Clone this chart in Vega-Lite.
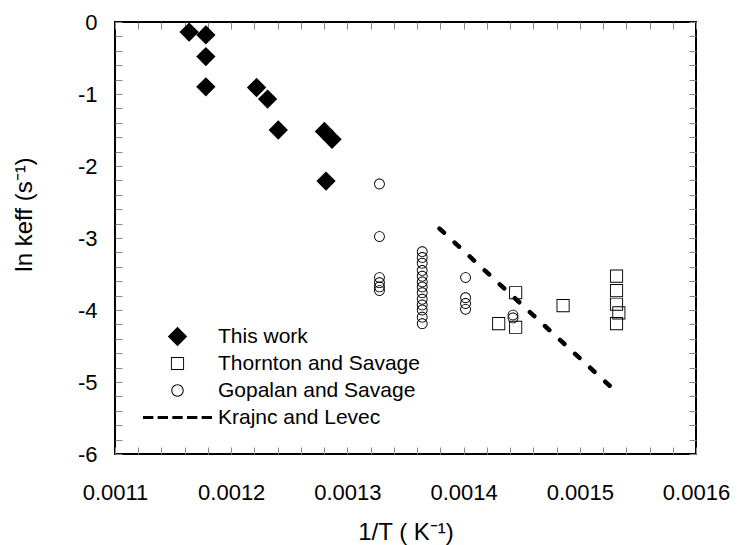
{
  "$schema": "https://vega.github.io/schema/vega-lite/v6.json",
  "width": 581,
  "height": 432,
  "autosize": "none",
  "padding": {"left": 115, "top": 22, "right": 42, "bottom": 91},
  "background": "white",
  "config": {
    "view": {"stroke": "black", "strokeWidth": 2},
    "font": "Liberation Sans",
    "axis": {
      "grid": false,
      "domain": false,
      "labelColor": "black",
      "labelFont": "Liberation Sans",
      "labelFontSize": 22,
      "titleFont": "Liberation Sans",
      "titleFontSize": 24,
      "titleFontWeight": "normal",
      "titleColor": "black"
    }
  },
  "data": {
    "values": [
      {"series": "This work", "x": 0.0011638, "y": -0.14},
      {"series": "This work", "x": 0.0011782, "y": -0.18},
      {"series": "This work", "x": 0.0011782, "y": -0.48},
      {"series": "This work", "x": 0.0011782, "y": -0.90},
      {"series": "This work", "x": 0.0012218, "y": -0.91},
      {"series": "This work", "x": 0.0012313, "y": -1.07},
      {"series": "This work", "x": 0.0012405, "y": -1.50},
      {"series": "This work", "x": 0.0012802, "y": -1.52},
      {"series": "This work", "x": 0.0012868, "y": -1.63},
      {"series": "This work", "x": 0.0012816, "y": -2.21},
      {"series": "Thornton and Savage", "x": 0.0014448, "y": -3.76},
      {"series": "Thornton and Savage", "x": 0.0014302, "y": -4.19},
      {"series": "Thornton and Savage", "x": 0.0014448, "y": -4.24},
      {"series": "Thornton and Savage", "x": 0.0014856, "y": -3.94},
      {"series": "Thornton and Savage", "x": 0.0015316, "y": -3.53},
      {"series": "Thornton and Savage", "x": 0.0015316, "y": -3.73},
      {"series": "Thornton and Savage", "x": 0.0015316, "y": -3.92},
      {"series": "Thornton and Savage", "x": 0.0015336, "y": -4.04},
      {"series": "Thornton and Savage", "x": 0.0015316, "y": -4.19},
      {"series": "Gopalan and Savage", "x": 0.0013276, "y": -2.25},
      {"series": "Gopalan and Savage", "x": 0.0013276, "y": -2.98},
      {"series": "Gopalan and Savage", "x": 0.0013276, "y": -3.55},
      {"series": "Gopalan and Savage", "x": 0.0013276, "y": -3.62},
      {"series": "Gopalan and Savage", "x": 0.0013276, "y": -3.68},
      {"series": "Gopalan and Savage", "x": 0.0013276, "y": -3.73},
      {"series": "Gopalan and Savage", "x": 0.0013644, "y": -3.19},
      {"series": "Gopalan and Savage", "x": 0.0013644, "y": -3.27},
      {"series": "Gopalan and Savage", "x": 0.0013644, "y": -3.35},
      {"series": "Gopalan and Savage", "x": 0.0013644, "y": -3.45},
      {"series": "Gopalan and Savage", "x": 0.0013644, "y": -3.53},
      {"series": "Gopalan and Savage", "x": 0.0013644, "y": -3.61},
      {"series": "Gopalan and Savage", "x": 0.0013644, "y": -3.68},
      {"series": "Gopalan and Savage", "x": 0.0013644, "y": -3.76},
      {"series": "Gopalan and Savage", "x": 0.0013644, "y": -3.85},
      {"series": "Gopalan and Savage", "x": 0.0013644, "y": -3.93},
      {"series": "Gopalan and Savage", "x": 0.0013644, "y": -4.00},
      {"series": "Gopalan and Savage", "x": 0.0013644, "y": -4.10},
      {"series": "Gopalan and Savage", "x": 0.0013644, "y": -4.19},
      {"series": "Gopalan and Savage", "x": 0.0014017, "y": -3.55},
      {"series": "Gopalan and Savage", "x": 0.0014017, "y": -3.83},
      {"series": "Gopalan and Savage", "x": 0.0014017, "y": -3.91},
      {"series": "Gopalan and Savage", "x": 0.0014017, "y": -3.99},
      {"series": "Gopalan and Savage", "x": 0.0014425, "y": -4.07},
      {"series": "Gopalan and Savage", "x": 0.0014425, "y": -4.11},
      {"series": "Krajnc and Levec", "x": 0.0013793, "y": -2.87},
      {"series": "Krajnc and Levec", "x": 0.0015302, "y": -5.12}
    ]
  },
  "layer": [
    {
      "transform": [{"filter": "datum.series === 'This work'"}],
      "mark": {"type": "point", "filled": true, "size": 4761, "color": "black", "opacity": 1},
      "encoding": {
        "x": {"field": "x", "type": "quantitative",
          "scale": {"domain": [0.0011, 0.0016], "nice": false, "zero": false},
          "axis": {"orient": "bottom", "values": [0.0011, 0.00112, 0.00114, 0.00116, 0.00118, 0.0012, 0.00122, 0.00124, 0.00126, 0.00128, 0.0013, 0.00132, 0.00134, 0.00136, 0.00138, 0.0014, 0.00142, 0.00144, 0.00146, 0.00148, 0.0015, 0.00152, 0.00154, 0.00156, 0.00158, 0.0016],
            "labelExpr": "abs(datum.value * 10000 - round(datum.value * 10000)) < 0.001 ? format(datum.value, '.4f') : ''",
            "labelFlush": false, "labelOverlap": false, "tickSize": -7, "labelPadding": 35, "title": "1/T ( K⁻¹)", "titlePadding": 17}},
        "y": {"field": "y", "type": "quantitative",
          "scale": {"domain": [-6, 0], "nice": false, "zero": false},
          "axis": {"orient": "left", "values": [0, -0.2, -0.4, -0.6, -0.8, -1, -1.2, -1.4, -1.6, -1.8, -2, -2.2, -2.4, -2.6, -2.8, -3, -3.2, -3.4, -3.6, -3.8, -4, -4.2, -4.4, -4.6, -4.8, -5, -5.2, -5.4, -5.6, -5.8, -6],
            "labelExpr": "abs(datum.value - round(datum.value)) < 0.001 ? '' + round(datum.value) : ''",
            "labelFlush": false, "labelOverlap": false, "tickSize": -7, "labelPadding": 25, "title": "ln keff (s⁻¹)", "titleX": -79, "titleY": 192}},
        "shape": {"field": "series", "type": "nominal",
          "scale": {"domain": ["This work", "Thornton and Savage", "Gopalan and Savage", "Krajnc and Levec"],
            "range": ["M0,-0.28L0.28,0L0,0.28L-0.28,0Z",
                      "M-0.19,-0.19L0.19,-0.19L0.19,0.19L-0.19,0.19ZM-0.163,-0.163L-0.163,0.163L0.163,0.163L0.163,-0.163Z",
                      "M0.18,0A0.18,0.18 0 1,1 -0.18,0A0.18,0.18 0 1,1 0.18,0ZM0.15,0A0.15,0.15 0 1,0 -0.15,0A0.15,0.15 0 1,0 0.15,0Z",
                      "M-1,-0.04h0.3v0.08h-0.3ZM-0.575,-0.04h0.3v0.08h-0.3ZM-0.15,-0.04h0.3v0.08h-0.3ZM0.275,-0.04h0.3v0.08h-0.3ZM0.7,-0.04h0.3v0.08h-0.3Z"]},
          "legend": {"orient": "none", "legendX": 28, "legendY": 302, "padding": 0, "title": null, "labelFontSize": 21, "labelFont": "Liberation Sans", "labelColor": "black", "labelLimit": 400, "symbolSize": 4761, "clipHeight": 25, "rowPadding": 2, "symbolFillColor": "black", "symbolStrokeWidth": 0, "symbolOpacity": 1, "labelOffset": 6}}
      }
    },
    {
      "transform": [{"filter": "datum.series === 'Thornton and Savage'"}],
      "mark": {"type": "point", "filled": true, "size": 4761, "color": "black", "opacity": 1},
      "encoding": {
        "x": {"field": "x", "type": "quantitative",
          "scale": {"domain": [0.0011, 0.0016], "nice": false, "zero": false}, "axis": null},
        "y": {"field": "y", "type": "quantitative",
          "scale": {"domain": [-6, 0], "nice": false, "zero": false}, "axis": null},
        "shape": {"field": "series", "type": "nominal"}
      }
    },
    {
      "transform": [{"filter": "datum.series === 'Gopalan and Savage'"}],
      "mark": {"type": "point", "filled": true, "size": 3600, "color": "black", "opacity": 1},
      "encoding": {
        "x": {"field": "x", "type": "quantitative",
          "scale": {"domain": [0.0011, 0.0016], "nice": false, "zero": false},
          "axis": {"orient": "top", "values": [0.0011, 0.00112, 0.00114, 0.00116, 0.00118, 0.0012, 0.00122, 0.00124, 0.00126, 0.00128, 0.0013, 0.00132, 0.00134, 0.00136, 0.00138, 0.0014, 0.00142, 0.00144, 0.00146, 0.00148, 0.0015, 0.00152, 0.00154, 0.00156, 0.00158, 0.0016], "tickSize": -7, "labels": false, "title": null}},
        "y": {"field": "y", "type": "quantitative",
          "scale": {"domain": [-6, 0], "nice": false, "zero": false},
          "axis": {"orient": "right", "values": [0, -0.2, -0.4, -0.6, -0.8, -1, -1.2, -1.4, -1.6, -1.8, -2, -2.2, -2.4, -2.6, -2.8, -3, -3.2, -3.4, -3.6, -3.8, -4, -4.2, -4.4, -4.6, -4.8, -5, -5.2, -5.4, -5.6, -5.8, -6], "tickSize": -7, "labels": false, "title": null}},
        "shape": {"field": "series", "type": "nominal"}
      }
    },
    {
      "transform": [{"filter": "datum.series === 'Krajnc and Levec'"}],
      "mark": {"type": "line", "color": "black", "strokeWidth": 4.5, "strokeDash": [6, 14.5], "strokeCap": "round"},
      "encoding": {
        "x": {"field": "x", "type": "quantitative",
          "scale": {"domain": [0.0011, 0.0016], "nice": false, "zero": false}, "axis": null},
        "y": {"field": "y", "type": "quantitative",
          "scale": {"domain": [-6, 0], "nice": false, "zero": false}, "axis": null}
      }
    }
  ],
  "resolve": {"axis": {"x": "independent", "y": "independent"}}
}
